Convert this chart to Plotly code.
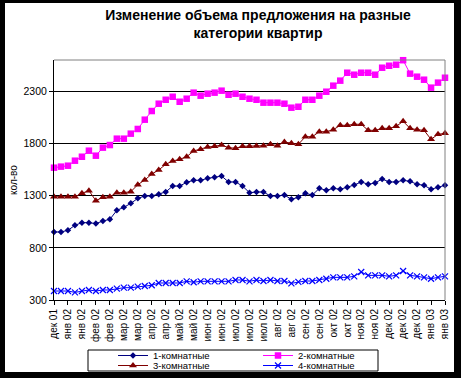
import plotly.graph_objects as go

# ---- data ----
weeks = list(range(57))  # weekly observations, Dec 2001 - Jan 2003
tick_labels = ["дек 01", "янв 02", "янв 02", "фев 02", "фев 02", "мар 02", "мар 02",
               "апр 02", "апр 02", "май 02", "май 02", "июн 02", "июн 02", "июл 02",
               "июл 02", "июл 02", "авг 02", "авг 02", "сен 02", "сен 02", "окт 02",
               "окт 02", "ноя 02", "ноя 02", "дек 02", "дек 02", "дек 02", "янв 03", "янв 03"]
y_ticks = [300, 800, 1300, 1800, 2300]

rooms1 = [952, 952, 968, 1016, 1041, 1041, 1032, 1057, 1073, 1159, 1188, 1226, 1274, 1297, 1297,
          1313, 1335, 1392, 1392, 1428, 1447, 1447, 1466, 1476, 1488, 1431, 1431, 1392, 1328, 1335,
          1335, 1297, 1297, 1306, 1265, 1284, 1322, 1306, 1370, 1351, 1370, 1361, 1380, 1402, 1431,
          1409, 1421, 1460, 1431, 1431, 1447, 1437, 1409, 1399, 1361, 1380, 1399]
rooms2 = [1568, 1578, 1587, 1635, 1673, 1731, 1683, 1760, 1785, 1846, 1846, 1894, 1939, 2028, 2111,
          2181, 2219, 2248, 2200, 2229, 2287, 2258, 2277, 2287, 2306, 2267, 2277, 2248, 2229, 2219,
          2191, 2191, 2191, 2181, 2143, 2152, 2219, 2219, 2258, 2296, 2354, 2402, 2478, 2459, 2478,
          2478, 2459, 2526, 2545, 2555, 2598, 2469, 2440, 2411, 2335, 2383, 2430]
rooms3 = [1290, 1290, 1290, 1290, 1322, 1348, 1252, 1284, 1290, 1329, 1329, 1338, 1405,
          1450, 1507, 1546, 1600, 1632, 1648, 1673, 1728, 1744, 1766, 1773, 1785, 1760, 1754, 1773,
          1773, 1776,
          1779, 1792, 1779, 1814, 1802, 1792, 1865, 1865, 1913, 1913, 1932, 1974, 1974, 1984, 1984,
          1926, 1926, 1945, 1945, 1964, 2012, 1945, 1932, 1926, 1840, 1888, 1897]
rooms4 = [386, 386, 386, 373, 386, 396, 386, 396, 396, 409, 418, 418, 428, 434, 441,
          463, 463, 463, 463, 479, 470, 479, 479, 479, 479, 479, 492, 492, 479, 492,
          482, 492, 482, 482, 460, 473, 482, 482, 492, 504, 517, 517, 517, 527, 568,
          536, 536, 536, 527, 536, 578, 536, 527, 517, 504, 517, 527]

names = ["1-комнатные", "2-комнатные", "3-комнатные", "4-комнатные"]

# ---- layout geometry ----
W, H = 461, 378
ml, mr, mt, mb = 54, 16, 60, 78
pw = W - ml - mr
ph = H - mt - mb


def px_x(px):
    return (px - ml) / pw


def px_y(py):
    return (H - mb - py) / ph


FONT = "Liberation Sans, Arial, sans-serif"

fig = go.Figure()

styles = [
    dict(series=rooms1, color="#000080", symbol="diamond", size=5, legend="legend"),
    dict(series=rooms2, color="#FF00FF", symbol="square", size=6.5, legend="legend"),
    dict(series=rooms3, color="#800000", symbol="triangle-up", size=7, legend="legend2"),
    dict(series=rooms4, color="#0000FF", symbol="x-thin", size=6, legend="legend2"),
]

for name, st in zip(names, styles):
    marker = dict(symbol=st["symbol"], size=st["size"], color=st["color"])
    if st["symbol"] == "x-thin":
        marker["line"] = dict(color=st["color"], width=1.2)
    else:
        marker["line"] = dict(width=0)
    fig.add_trace(go.Scatter(
        x=weeks, y=st["series"], name=name, mode="lines+markers",
        line=dict(color=st["color"], width=1),
        marker=marker, cliponaxis=False, legend=st["legend"],
    ))

fig.update_layout(
    width=W, height=H,
    margin=dict(l=ml, r=mr, t=mt, b=mb, autoexpand=False),
    paper_bgcolor="black",
    plot_bgcolor="white",
    font=dict(family=FONT, size=10, color="black"),
    title=dict(
        text="<b>Изменение объема предложения на разные<br>категории квартир</b>",
        x=258 / W, xref="container", xanchor="center",
        y=1 - 20 / H, yref="container", yanchor="top",
        font=dict(family=FONT, size=14, color="black"),
    ),
    xaxis=dict(
        range=[0, 56], tickmode="array", tickvals=weeks[::2], ticktext=tick_labels,
        tickangle=-90, ticks="outside", ticklen=4, tickcolor="black",
        showline=True, linecolor="black", linewidth=1,
        showgrid=False, zeroline=False,
        tickfont=dict(family=FONT, size=10, color="black"),
    ),
    yaxis=dict(
        range=[300, 2600], tickmode="array", tickvals=y_ticks,
        ticks="outside", ticklen=4, tickcolor="black",
        showline=True, linecolor="black", linewidth=1,
        showgrid=True, gridcolor="black", gridwidth=1, zeroline=False,
        tickfont=dict(family=FONT, size=10.5, color="black"),
        title=dict(text="кол-во", standoff=4, font=dict(family=FONT, size=10, color="black")),
    ),
    legend=dict(
        orientation="h", x=px_x(113), y=px_y(341), xanchor="left", yanchor="top",
        entrywidth=100, bgcolor="rgba(0,0,0,0)", borderwidth=0,
        font=dict(family=FONT, size=9.5, color="black"),
    ),
    legend2=dict(
        orientation="h", x=px_x(113), y=px_y(351), xanchor="left", yanchor="top",
        entrywidth=100, bgcolor="rgba(0,0,0,0)", borderwidth=0,
        font=dict(family=FONT, size=9.5, color="black"),
    ),
    shapes=[
        dict(type="rect", xref="paper", yref="paper", layer="below",
             x0=px_x(5), x1=px_x(454), y0=px_y(372), y1=px_y(3),
             fillcolor="white", line=dict(width=0)),
        dict(type="rect", xref="paper", yref="paper", layer="below",
             x0=px_x(88), x1=px_x(378), y0=px_y(371), y1=px_y(350),
             fillcolor="white", line=dict(color="black", width=1)),
        dict(type="line", xref="paper", yref="paper", layer="above",
             x0=0, x1=1, y0=1, y1=1, line=dict(color="#808080", width=1)),
        dict(type="line", xref="paper", yref="paper", layer="above",
             x0=1, x1=1, y0=0, y1=1, line=dict(color="#808080", width=1)),
    ],
)

fig.write_html(
    "out.html",
    config={"displayModeBar": False},
    post_script="document.body.style.margin='0';document.body.style.padding='0';",
)
